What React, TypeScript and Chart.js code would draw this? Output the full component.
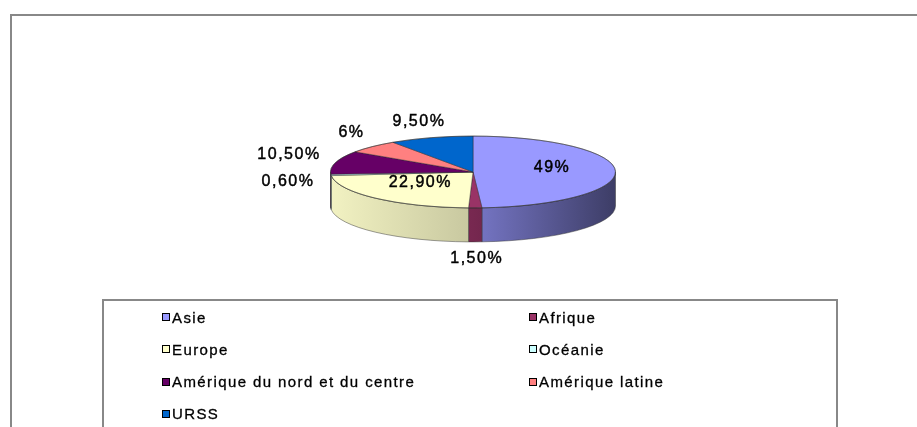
import React, { useEffect, useRef } from "react";
import { Chart, registerables } from "chart.js";

Chart.register(...registerables);

const categories = [
  "Asie",
  "Afrique",
  "Europe",
  "Océanie",
  "Amérique du nord et du centre",
  "Amérique latine",
  "URSS",
];
const shares = [49, 1.5, 22.9, 0.6, 10.5, 6, 9.5];
const colors = ["#9999FF", "#993366", "#FFFFCC", "#CCFFFF", "#660066", "#FF8080", "#0066CC"];

const TILT = 0.252;
const DEPTH = 34;
const FONT = '"Liberation Sans", Arial, sans-serif';

function fmt(v: number) {
  return Number.isInteger(v) ? `${v}%` : v.toFixed(2).replace(".", ",") + "%";
}

function shade(hex: string, f: number) {
  const n = parseInt(hex.slice(1), 16);
  const r = Math.round(((n >> 16) & 255) * f);
  const g = Math.round(((n >> 8) & 255) * f);
  const b = Math.round((n & 255) * f);
  return `rgb(${r},${g},${b})`;
}

const pie3d = {
  id: "pie3d",
  beforeDatasetsDraw(chart: any) {
    const ctx = chart.ctx as CanvasRenderingContext2D;
    const arcs = chart.getDatasetMeta(0).data as any[];
    const { x: cx, y: cy, outerRadius: r } = arcs[0];
    const ry = r * TILT;
    ctx.save();
    arcs.forEach((arc, i) => {
      const s = Math.max(arc.startAngle, 0);
      const e = Math.min(arc.endAngle, Math.PI);
      if (e <= s) return;
      const g = ctx.createLinearGradient(cx - r, 0, cx + r, 0);
      g.addColorStop(0, shade(colors[i], 0.95));
      g.addColorStop(0.5, shade(colors[i], 0.78));
      g.addColorStop(1, shade(colors[i], 0.4));
      ctx.beginPath();
      ctx.ellipse(cx, cy, r, ry, 0, s, e);
      ctx.ellipse(cx, cy + DEPTH, r, ry, 0, e, s, true);
      ctx.closePath();
      ctx.fillStyle = g;
      ctx.fill();
      ctx.strokeStyle = "rgba(50,50,50,0.6)";
      ctx.lineWidth = 0.8;
      ctx.stroke();
    });
    ctx.restore();
    ctx.save();
    ctx.translate(cx, cy);
    ctx.scale(1, TILT);
    ctx.translate(-cx, -cy);
  },
  afterDatasetsDraw(chart: any) {
    const ctx = chart.ctx as CanvasRenderingContext2D;
    ctx.restore();
    const arcs = chart.getDatasetMeta(0).data as any[];
    const { x: cx, y: cy, outerRadius: r } = arcs[0];
    const ry = r * TILT;
    ctx.save();
    ctx.beginPath();
    ctx.ellipse(cx, cy, r, ry, 0, 0, Math.PI * 2);
    ctx.strokeStyle = "rgba(50,50,50,0.6)";
    ctx.lineWidth = 0.8;
    ctx.stroke();
    ctx.font = `16px ${FONT}`;
    (ctx as any).letterSpacing = "1.5px";
    ctx.fillStyle = "#000";
    ctx.strokeStyle = "#000";
    ctx.lineWidth = 0.45;
    ctx.textAlign = "center";
    ctx.textBaseline = "middle";
    arcs.forEach((arc, i) => {
      const v = shares[i];
      const text = fmt(v);
      const m = (arc.startAngle + arc.endAngle) / 2;
      const c = Math.cos(m);
      const sn = Math.sin(m);
      let x: number, y: number;
      if (v > 15) {
        x = cx + 0.55 * r * c;
        y = cy + 0.55 * ry * sn - 4;
      } else {
        const w = ctx.measureText(text).width;
        const px = cx + 1.08 * r * c;
        const py = cy + 1.08 * ry * sn + DEPTH * Math.max(0, sn);
        x = px + c * (w / 2 + 6);
        y = py + Math.sign(sn) * Math.sqrt(Math.abs(sn)) * 14;
      }
      ctx.fillText(text, x + 0.75, y);
      ctx.strokeText(text, x + 0.75, y);
    });
    ctx.restore();
  },
};

export default function App() {
  const ref = useRef<HTMLCanvasElement>(null);
  useEffect(() => {
    const chart = new Chart(ref.current!, {
      type: "pie",
      data: {
        labels: categories,
        datasets: [
          {
            data: shares,
            backgroundColor: colors,
            borderColor: "rgba(40,40,40,0.7)",
            borderWidth: 1,
          },
        ],
      },
      options: {
        responsive: false,
        animation: false,
        layout: { padding: { left: 330, right: 301, top: 29, bottom: 112 } },
        plugins: { legend: { display: false }, tooltip: { enabled: false } },
      },
      plugins: [pie3d],
    });
    return () => chart.destroy();
  }, []);

  return (
    <div style={{ position: "fixed", left: 0, top: 0, width: 917, height: 427, background: "#fff", overflow: "hidden" }}>
      <div
        style={{
          position: "absolute",
          left: 10,
          top: 14,
          width: 950,
          height: 500,
          borderLeft: "2px solid #888",
          borderTop: "2px solid #888",
        }}
      />
      <canvas ref={ref} width={917} height={427} style={{ position: "absolute", left: 0, top: 0 }} />
      <div
        style={{
          position: "absolute",
          left: 102,
          top: 299,
          width: 732,
          height: 200,
          border: "2px solid #888",
          fontFamily: FONT,
          fontSize: 15,
          letterSpacing: "1.4px",
          color: "#000",
          WebkitTextStroke: "0.3px #000",
        }}
      >
        {categories.map((c, i) => (
          <div
            key={c}
            style={{
              position: "absolute",
              left: i % 2 === 0 ? 58 : 425,
              top: Math.floor(i / 2) * 32.3,
              height: 32,
              display: "flex",
              alignItems: "center",
              whiteSpace: "nowrap",
            }}
          >
            <span
              style={{
                display: "inline-block",
                width: 6,
                height: 6,
                border: "1px solid #000",
                background: colors[i],
                marginRight: 2,
              }}
            />
            {c}
          </div>
        ))}
      </div>
    </div>
  );
}
